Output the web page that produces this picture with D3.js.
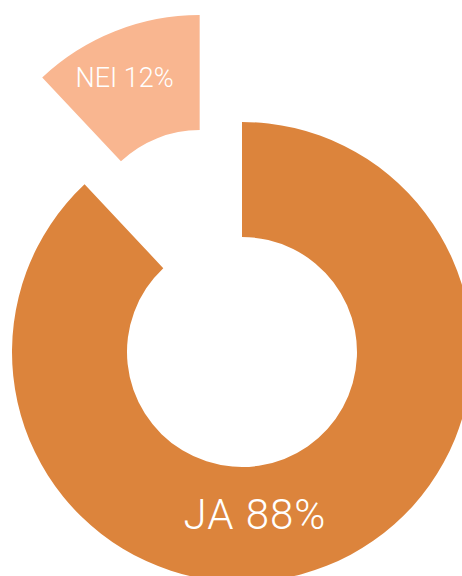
<!DOCTYPE html>
<html>
<head>
<meta charset="utf-8">
<script src="https://cdn.jsdelivr.net/npm/d3@7"></script>
<style>
  body { margin: 0; background: #fff; }
  svg { display: block; }
  text { font-family: Roboto, "DejaVu Sans", sans-serif; font-weight: 300; fill: #fff; }
</style>
</head>
<body>
<div id="chart"></div>
<script>
const labels = ['JA', 'NEI']
const values = [88, 12]
const colors = ['#DC843C', '#F9B690']

const W = 462, H = 576
const CX = 242, CY = 352
const OUTER = 230, INNER = 115
const EXPLODE = 115

const svg = d3.select('#chart').append('svg')
  .attr('width', W)
  .attr('height', H)

const g = svg.append('g')
  .attr('transform', `translate(${CX}, ${CY})`)

const pie = d3.pie().sort(null).value(d => d.value)
const arc = d3.arc().innerRadius(INNER).outerRadius(OUTER)

const data = labels.map((l, i) => ({ label: l, value: values[i], color: colors[i] }))
const arcs = pie(data)

// offset for the exploded (small) slice along its mid angle
function offset(d, i) {
  if (i === 0) return [0, 0]
  const a = (d.startAngle + d.endAngle) / 2
  return [Math.sin(a) * EXPLODE, -Math.cos(a) * EXPLODE]
}

const slices = g.selectAll('g.slice')
  .data(arcs)
  .enter().append('g')
    .attr('class', 'slice')
    .attr('transform', (d, i) => {
      const [dx, dy] = offset(d, i)
      return `translate(${dx}, ${dy})`
    })

slices.append('path')
  .attr('d', arc)
  .attr('fill', d => d.data.color)

// label spots, relative to each slice's own centre
const labelPos = [[13, 177], [-75, -158]]
const labelSize = [42, 27]

slices.append('text')
  .attr('x', (d, i) => labelPos[i][0])
  .attr('y', (d, i) => labelPos[i][1])
  .attr('text-anchor', 'middle')
  .attr('font-size', (d, i) => labelSize[i])
  .style('letter-spacing', (d, i) => i === 0 ? '1px' : '0px')
  .text(d => `${d.data.label} ${d.data.value}%`)
</script>
</body>
</html>
